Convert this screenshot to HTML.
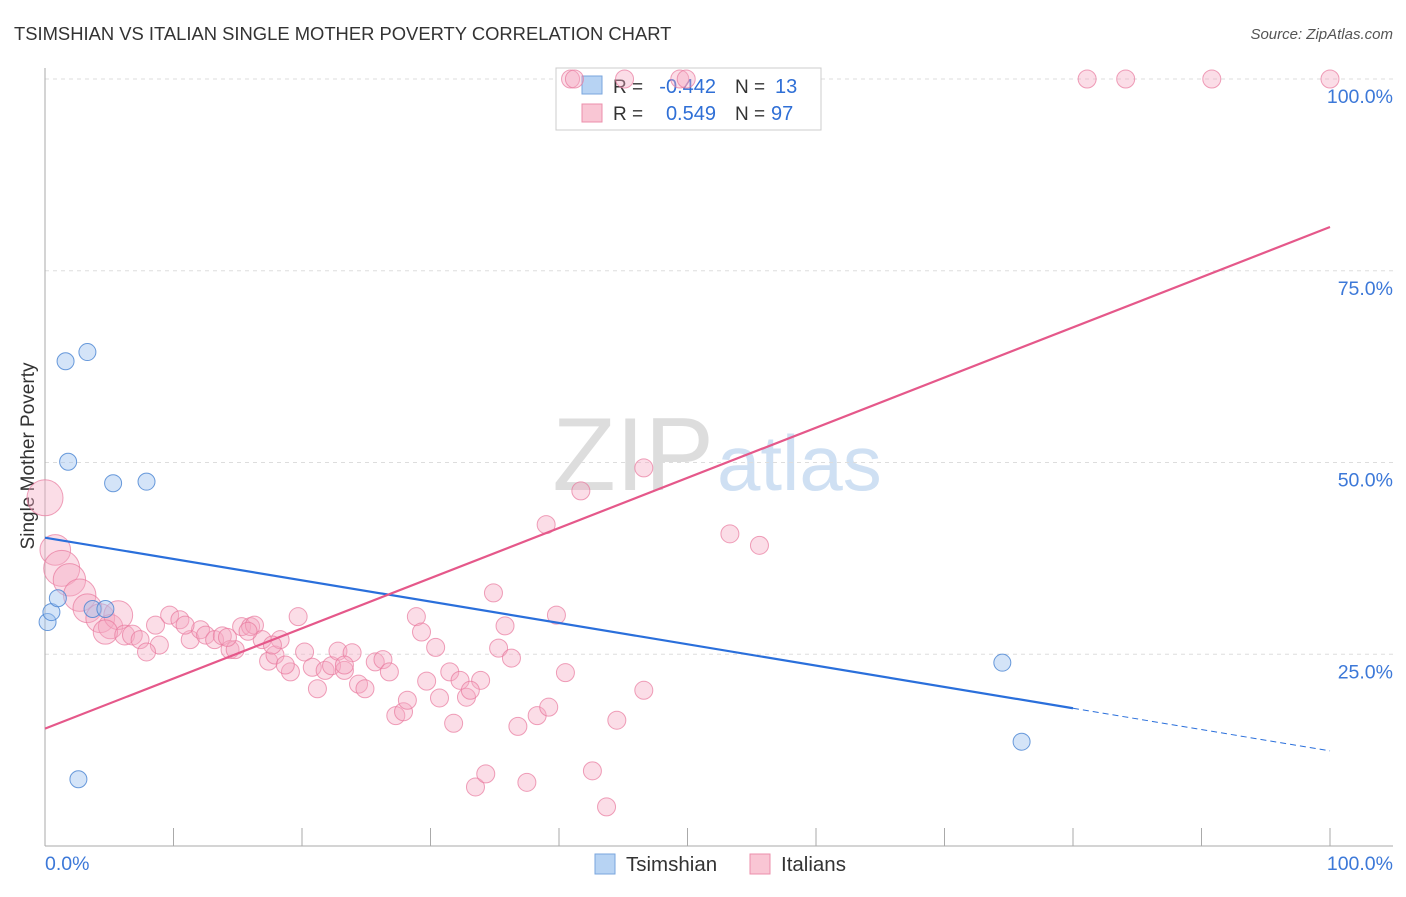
<!DOCTYPE html>
<html><head><meta charset="utf-8"><style>
body{margin:0;background:#fff;font-family:"Liberation Sans",sans-serif}
svg text{font-family:"Liberation Sans",sans-serif}
</style></head><body>
<svg id="c" width="1406" height="892" xmlns="http://www.w3.org/2000/svg">
<text x="14" y="40" font-size="18.4" fill="#333">TSIMSHIAN VS ITALIAN SINGLE MOTHER POVERTY CORRELATION CHART</text>
<text x="1393" y="39" font-size="15" fill="#555" text-anchor="end" font-style="italic">Source: ZipAtlas.com</text>
<text x="714" y="490" font-size="104" fill="#ddd" text-anchor="end" font-family="Liberation Serif">ZIP</text>
<text x="717" y="490" font-size="78" fill="#cfe0f3">atlas</text>
<text transform="translate(34,456) rotate(-90)" font-size="19" fill="#333" text-anchor="middle">Single Mother Poverty</text>
<g id="grid"></g>
<g>
<rect x="556" y="68" width="265" height="62" fill="#fff" stroke="#ccc"/>
<rect x="582" y="76" width="20" height="18" fill="#b7d3f3" stroke="#7aa6de"/>
<rect x="582" y="104" width="20" height="18" fill="#f9c6d4" stroke="#ec8fab"/>
<text x="613" y="93" font-size="19" fill="#333">R =</text>
<text x="716" y="93" font-size="20" fill="#2f6fd6" text-anchor="end">-0.442</text>
<text x="735" y="93" font-size="19" fill="#333">N =</text>
<text x="775" y="93" font-size="20" fill="#2f6fd6">13</text>
<text x="613" y="120" font-size="19" fill="#333">R =</text>
<text x="716" y="120" font-size="20" fill="#2f6fd6" text-anchor="end">0.549</text>
<text x="735" y="120" font-size="19" fill="#333">N =</text>
<text x="771" y="120" font-size="20" fill="#2f6fd6">97</text>
</g>
<g id="pts"></g><g id="lines"></g>
<g>
<rect x="595" y="854" width="20" height="20" fill="#b7d3f3" stroke="#7aa6de"/>
<text x="626" y="871" font-size="20.5" fill="#333">Tsimshian</text>
<rect x="750" y="854" width="20" height="20" fill="#f9c6d4" stroke="#ec8fab"/>
<text x="781" y="871" font-size="20.5" fill="#333">Italians</text>
</g>
</svg>
<script>
const yTicks=[100,75,50,25];
const blueX=[0.2,0.5,1.0,1.6,3.3,1.8,5.3,7.9,3.7,4.7,2.6,74.5,76.0];
const blueY=[29.2,30.5,32.3,63.2,64.4,50.1,47.3,47.5,30.9,30.9,8.7,23.9,13.6];
const pinkX=[40.9,41.2,45.1,49.4,49.9,81.1,84.1,90.8,100,
0,0.8,1.3,1.9,2.7,3.3,4.3,5.1,5.7,4.7,6.2,6.8,
8.6,9.7,10.5,11.3,12.1,12.5,13.2,13.8,14.4,14.8,15.3,16.0,16.3,16.9,17.4,17.9,18.3,19.1,19.7,20.2,20.8,21.2,21.8,22.3,22.8,23.3,23.9,24.4,24.9,25.7,26.3,26.8,27.3,27.9,28.2,28.9,29.3,30.4,29.7,30.7,31.5,31.8,32.3,32.8,33.9,33.5,34.3,34.9,35.3,35.8,36.3,36.8,37.5,38.3,39.0,39.2,39.8,40.5,41.7,42.6,43.7,44.5,46.6,46.6,53.3,55.6,
7.4,8.9,7.9,10.9,14.2,15.8,17.7,18.7,23.3,33.1];
const pinkY=[100,100,100,100,100,100,100,100,100,
45.4,38.6,36.2,34.7,32.7,31.0,29.7,28.6,30.1,27.9,27.5,27.5,
28.8,30.1,29.5,26.9,28.2,27.5,26.9,27.4,25.6,25.6,28.6,28.6,28.8,26.9,24.1,24.9,26.9,22.7,29.9,25.3,23.3,20.5,22.9,23.5,25.4,22.9,25.2,21.1,20.5,24.0,24.3,22.7,17.0,17.5,19.0,29.9,27.9,25.9,21.5,19.3,22.7,16.0,21.6,19.4,21.6,7.7,9.4,33.0,25.8,28.7,24.5,15.6,8.3,17.0,41.9,18.1,30.1,22.6,46.3,9.8,5.1,16.4,49.3,20.3,40.7,39.2,
26.9,26.2,25.3,28.8,27.2,28.0,26.2,23.6,23.6,20.3];
const pinkSize=[1,1,1,1,1,1,1,1,1,2,1.7,2,1.8,1.8,1.6,1.6,1.35,1.6,1.35,1.1,1.1];
const blueTrend=[40.2,12.4], blueSolidEnd=80;
const pinkTrend=[15.3,80.7];
const X=v=>45+v*12.85, Y=v=>846-v*7.67;
const NS="http://www.w3.org/2000/svg";
function mk(tag,a,p){const e=document.createElementNS(NS,tag);for(const k in a)e.setAttribute(k,a[k]);p.appendChild(e);return e;}
const g=document.getElementById('grid');
yTicks.forEach(t=>{
 const l=mk('line',{x1:45,x2:1393,y1:Y(t),y2:Y(t),stroke:'#ddd','stroke-dasharray':'4,4'},g);
 
 
 const tx=mk('text',{x:1393,y:Y(t)+24,'font-size':19.5,fill:'#3c78d8','text-anchor':'end'},g);
 tx.textContent=t.toFixed(1)+'%';
 
 
});
mk('line',{x1:45,x2:45,y1:68,y2:846,stroke:'#aaa'},g);
mk('line',{x1:45,x2:1393,y1:846,y2:846,stroke:'#aaa'},g);
for(let i=1;i<=10;i++){const l=mk('line',{x1:X(i*10),x2:X(i*10),y1:828,y2:846,stroke:'#aaa'},g);
 
 }
let t0=mk('text',{x:45,y:870,'font-size':19.5,fill:'#3c78d8'},g);t0.textContent='0.0%';


let t1=mk('text',{x:1393,y:870,'font-size':19.5,fill:'#3c78d8','text-anchor':'end'},g);t1.textContent='100.0%';


const p=document.getElementById('pts');
pinkX.forEach((x,i)=>{const c=mk('circle',{cx:X(x),cy:Y(pinkY[i]),r:9*(pinkSize[i]||1),fill:'rgba(246,170,194,0.4)',stroke:'rgba(232,120,156,0.7)','stroke-width':1},p);
 
 });
blueX.forEach((x,i)=>{const c=mk('circle',{cx:X(x),cy:Y(blueY[i]),r:8.5,fill:'rgba(160,196,240,0.45)',stroke:'rgba(70,130,210,0.8)','stroke-width':1},p);
 
 });
const L=document.getElementById('lines');
const bAt=v=>blueTrend[0]+(blueTrend[1]-blueTrend[0])*v/100;
let b1=mk('line',{x1:X(0),y1:Y(bAt(0)),x2:X(blueSolidEnd),y2:Y(bAt(blueSolidEnd)),stroke:'#2a6fdb','stroke-width':2.2},L);


let b2=mk('line',{x1:X(blueSolidEnd),y1:Y(bAt(blueSolidEnd)),x2:X(100),y2:Y(bAt(100)),stroke:'#2a6fdb','stroke-width':1,'stroke-dasharray':'6,4'},L);


let pl=mk('line',{x1:X(0),y1:Y(pinkTrend[0]),x2:X(100),y2:Y(pinkTrend[1]),stroke:'#e5588a','stroke-width':2.2},L);


</script>
</body></html>
